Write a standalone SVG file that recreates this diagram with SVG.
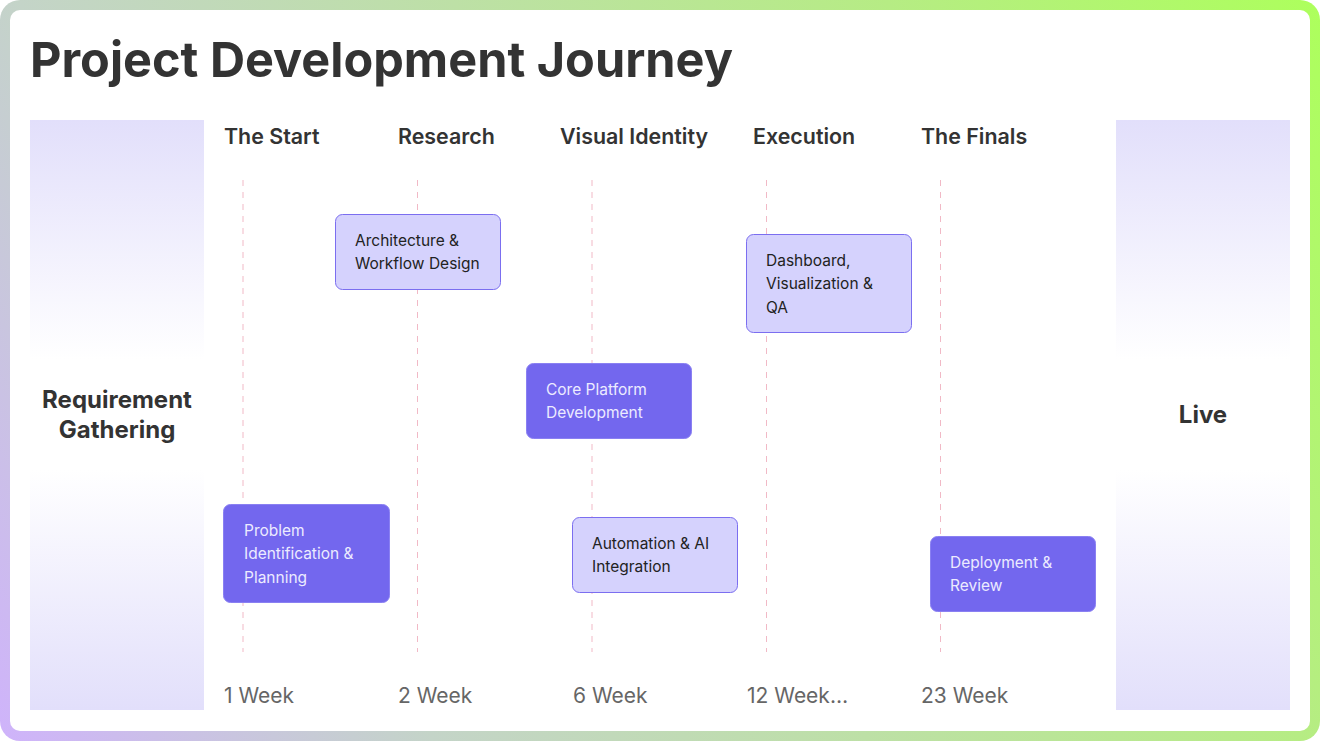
<svg xmlns="http://www.w3.org/2000/svg" width="1320" height="741" viewBox="0 0 1320 741">
  <defs>
    <linearGradient id="frame" gradientUnits="userSpaceOnUse" x1="0" y1="741" x2="1320" y2="0">
      <stop offset="0" stop-color="#cfb3fb"/>
      <stop offset="0.25" stop-color="#c4d4c8"/>
      <stop offset="0.75" stop-color="#b6ec84"/>
      <stop offset="1" stop-color="#adff5c"/>
    </linearGradient>
    <linearGradient id="fadeDown" x1="0" y1="0" x2="0" y2="1">
      <stop offset="0" stop-color="#e2dffb"/>
      <stop offset="1" stop-color="#ffffff"/>
    </linearGradient>
    <linearGradient id="fadeUp" x1="0" y1="1" x2="0" y2="0">
      <stop offset="0" stop-color="#e2dffb"/>
      <stop offset="1" stop-color="#ffffff"/>
    </linearGradient>
    <style>
      .title { font-family: Inter, "Liberation Sans", sans-serif; font-weight: 700; font-size: 48.6px; fill: #333333; }
      .phase { font-family: Inter, "Liberation Sans", sans-serif; font-weight: 600; font-size: 21.4px; fill: #333333; }
      .week { font-family: Inter, "Liberation Sans", sans-serif; font-weight: 400; font-size: 21px; fill: #666666; }
      .side { font-family: Inter, "Liberation Sans", sans-serif; font-weight: 700; font-size: 24px; fill: #333333; text-anchor: middle; }
      .light rect { fill: #d5d2fd; stroke: #7b6ef0; stroke-width: 1; }
      .dark rect { fill: #7367ee; stroke: #8a80f2; stroke-width: 1; }
      .light text { font-family: Inter, "Liberation Sans", sans-serif; font-size: 15.5px; fill: #222222; }
      .dark text { font-family: Inter, "Liberation Sans", sans-serif; font-size: 15.5px; fill: #ecebff; }
      .guide { stroke: #f1b9c6; stroke-width: 1; stroke-dasharray: 6 6; }
    </style>
  </defs>

  <rect x="0" y="0" width="1320" height="741" rx="20" fill="url(#frame)"/>
  <rect x="10" y="10" width="1300" height="721" rx="10" fill="#ffffff"/>

  <text class="title" x="30" y="77">Project Development Journey</text>

  <g id="start-panel">
    <rect x="30" y="120" width="174" height="240" fill="url(#fadeDown)"/>
    <rect x="30" y="470" width="174" height="240" fill="url(#fadeUp)"/>
    <text class="side" x="117" y="408">Requirement</text>
    <text class="side" x="117" y="438">Gathering</text>
  </g>
  <g id="end-panel">
    <rect x="1116" y="120" width="174" height="240" fill="url(#fadeDown)"/>
    <rect x="1116" y="470" width="174" height="240" fill="url(#fadeUp)"/>
    <text class="side" x="1203" y="423">Live</text>
  </g>

  <g id="phases">
    <text class="phase" x="224" y="144">The Start</text>
    <text class="phase" x="398" y="144">Research</text>
    <text class="phase" x="560" y="144">Visual Identity</text>
    <text class="phase" x="753" y="144">Execution</text>
    <text class="phase" x="921" y="144">The Finals</text>
  </g>

  <g id="connectors">
    <line class="guide" x1="243" y1="180" x2="243" y2="652"/>
    <line class="guide" x1="417.5" y1="180" x2="417.5" y2="652"/>
    <line class="guide" x1="592" y1="180" x2="592" y2="652"/>
    <line class="guide" x1="766.5" y1="180" x2="766.5" y2="652"/>
    <line class="guide" x1="940.5" y1="180" x2="940.5" y2="652"/>
  </g>

  <g id="weeks">
    <text class="week" x="224" y="703">1 Week</text>
    <text class="week" x="398" y="703">2 Week</text>
    <text class="week" x="573" y="703">6 Week</text>
    <text class="week" x="747" y="703">12 Week…</text>
    <text class="week" x="921" y="703">23 Week</text>
  </g>

  <g id="node-architecture" class="light">
    <rect x="335.5" y="214.5" width="165" height="75" rx="7"/>
    <text x="355" y="246">Architecture &amp;</text>
    <text x="355" y="269">Workflow Design</text>
  </g>

  <g id="node-dashboard" class="light">
    <rect x="746.5" y="234.5" width="165" height="98" rx="7"/>
    <text x="766" y="266">Dashboard,</text>
    <text x="766" y="289">Visualization &amp;</text>
    <text x="766" y="313">QA</text>
  </g>

  <g id="node-core" class="dark">
    <rect x="526.5" y="363.5" width="165" height="75" rx="7"/>
    <text x="546" y="395">Core Platform</text>
    <text x="546" y="418">Development</text>
  </g>

  <g id="node-problem" class="dark">
    <rect x="223.5" y="504.5" width="166" height="98" rx="7"/>
    <text x="244" y="536">Problem</text>
    <text x="244" y="559">Identification &amp;</text>
    <text x="244" y="583">Planning</text>
  </g>

  <g id="node-automation" class="light">
    <rect x="572.5" y="517.5" width="165" height="75" rx="7"/>
    <text x="592" y="549">Automation &amp; AI</text>
    <text x="592" y="572">Integration</text>
  </g>

  <g id="node-deployment" class="dark">
    <rect x="930.5" y="536.5" width="165" height="75" rx="7"/>
    <text x="950" y="568">Deployment &amp;</text>
    <text x="950" y="591">Review</text>
  </g>
</svg>
